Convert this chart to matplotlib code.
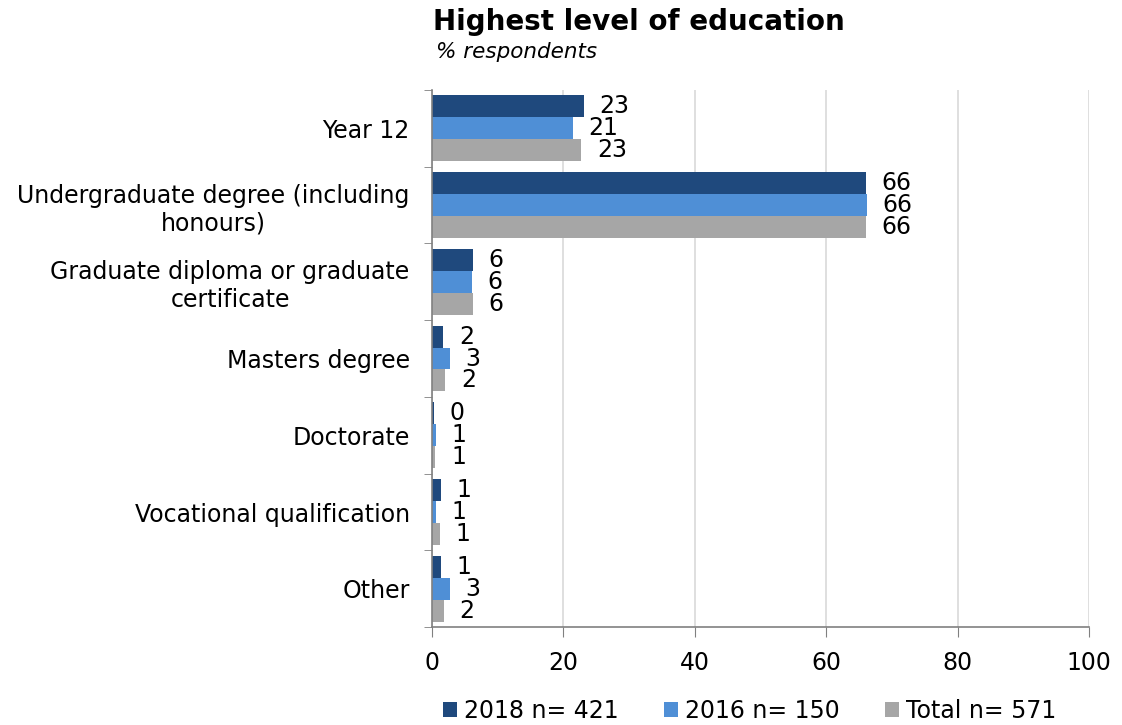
import matplotlib
matplotlib.use("Agg")
import matplotlib.pyplot as plt
import numpy as np

categories = ["Year 12", "Undergraduate degree (including\nhonours)",
              "Graduate diploma or graduate\ncertificate", "Masters degree",
              "Doctorate", "Vocational qualification", "Other"]
series_names = ["2018 n= 421", "2016 n= 150", "Total n= 571"]
v2018 = [23.1, 66.0, 6.2, 1.7, 0.3, 1.4, 1.4]
v2016 = [21.4, 66.2, 6.1, 2.7, 0.6, 0.6, 2.7]
vtotal = [22.7, 66.0, 6.2, 2.0, 0.5, 1.2, 1.8]
labels2018 = ["23", "66", "6", "2", "0", "1", "1"]
labels2016 = ["21", "66", "6", "3", "1", "1", "3"]
labelstotal = ["23", "66", "6", "2", "1", "1", "2"]
colors = ["#1F497D", "#4F8FD6", "#A6A6A6"]

plt.rcParams['font.family'] = ['DejaVu Sans']
FS = 17
fig = plt.figure(figsize=(11.22, 7.25), dpi=100)
ax = fig.add_axes([0.385, 0.135, 0.5855, 0.741])

n = len(categories)
y = np.arange(n)
h = 0.286
data = [v2018, v2016, vtotal]
labs = [labels2018, labels2016, labelstotal]
for i, (vals, lab, c, name) in enumerate(zip(data, labs, colors, series_names)):
    pos = y + (i - 1) * h
    ax.barh(pos, vals, height=h, color=c, label=name, edgecolor='none')
    for p, v, t in zip(pos, vals, lab):
        ax.text(v + 2.4, p, t, va='center', ha='left', fontsize=FS, color='black')

ax.set_xlim(0, 100)
ax.set_ylim(n - 0.5, -0.5)
ax.set_xticks(np.arange(0, 101, 20))
ax.set_yticks(y)
ax.set_yticklabels(categories, fontsize=FS)
ax.set_yticks(np.arange(-0.5, n, 1), minor=True)
ax.tick_params(axis='y', which='major', length=0, pad=16)
ax.tick_params(axis='y', which='minor', length=6, color='#808080', direction='out')
ax.tick_params(axis='x', length=7, color='#808080', labelsize=FS, pad=10)
for lab in ax.get_yticklabels():
    lab.set_multialignment('center')
ax.grid(axis='x', color='#D9D9D9', linewidth=1.2)
ax.set_axisbelow(True)
for s in ['top', 'right']:
    ax.spines[s].set_visible(False)
ax.spines['left'].set_color('#808080')
ax.spines['bottom'].set_color('#808080')
ax.spines['left'].set_linewidth(1.2)
ax.spines['bottom'].set_linewidth(1.2)

fig.text(0.386, 0.970, "Highest level of education", fontsize=20, fontweight='bold',
         ha='left', va='center')
fig.text(0.389, 0.928, "% respondents", fontsize=15.5, style='italic', ha='left', va='center')

leg = fig.legend(loc='center', bbox_to_anchor=(0.668, 0.019), ncol=3, frameon=False,
                 fontsize=FS, handlelength=0.6, handleheight=0.6, handletextpad=0.3,
                 columnspacing=1.9)

fig.savefig("out.png", dpi=100)
